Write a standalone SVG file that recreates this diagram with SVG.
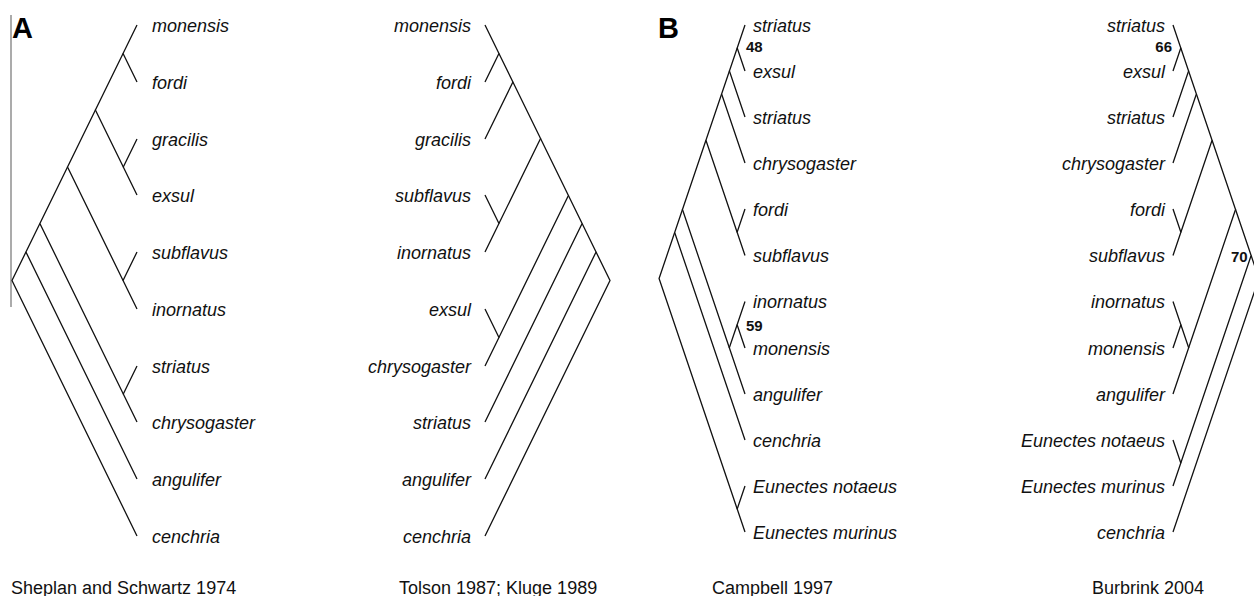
<svg xmlns="http://www.w3.org/2000/svg" width="1254" height="596" viewBox="0 0 1254 596">
<style>
.e{fill:none;stroke:#111;stroke-width:1.3}
.sp{font-family:"Liberation Sans",Arial,sans-serif;font-style:italic;font-size:18px;fill:#111}
.r{text-anchor:end}
.bs{font-family:"Liberation Sans",Arial,sans-serif;font-weight:bold;font-size:15px;fill:#111}
.cap{font-family:"Liberation Sans",Arial,sans-serif;font-size:18px;fill:#111}
.pl{font-family:"Liberation Sans",Arial,sans-serif;font-weight:bold;font-size:29px;fill:#000}
</style>
<rect width="1254" height="596" fill="#fff"/>
<line x1="11" y1="15" x2="11" y2="307" stroke="#666" stroke-width="1.1"/>
<g id="connectors">
 <g id="A1-edges">
  <path class="e" d="M25.94 252 L12 280.5 L137 536"/>
  <path class="e" d="M39.89 223.5 L25.94 252 L137 479"/>
  <path class="e" d="M67.53 167 L39.89 223.5 L123.3 394"/>
  <path class="e" d="M137 366 L123.3 394 L137 422"/>
  <path class="e" d="M95.41 110 L67.53 167 L123.06 280.5"/>
  <path class="e" d="M137 252 L123.06 280.5 L137 309"/>
  <path class="e" d="M123.06 53.5 L95.41 110 L123.3 167"/>
  <path class="e" d="M137 25 L123.06 53.5 L137 82"/>
  <path class="e" d="M137 139 L123.3 167 L137 195"/>
 </g>
 <g id="A2-edges">
  <path class="e" d="M596.06 252 L610 280.5 L485 536"/>
  <path class="e" d="M582.11 223.5 L596.06 252 L485 479"/>
  <path class="e" d="M568.41 195.5 L582.11 223.5 L485 422"/>
  <path class="e" d="M540.53 138.5 L568.41 195.5 L498.94 337.5"/>
  <path class="e" d="M485 309 L498.94 337.5 L485 366"/>
  <path class="e" d="M512.89 82 L540.53 138.5 L498.94 223.5"/>
  <path class="e" d="M485 195 L498.94 223.5 L485 252"/>
  <path class="e" d="M498.94 53.5 L512.89 82 L485 139"/>
  <path class="e" d="M485 25 L498.94 53.5 L485 82"/>
 </g>
 <g id="B1-edges">
  <path class="e" d="M674.66 232.5 L659.07 278.5 L737.2 509"/>
  <path class="e" d="M745 486 L737.2 509 L745 532"/>
  <path class="e" d="M682.46 209.5 L674.66 232.5 L745 440"/>
  <path class="e" d="M705.93 140.25 L682.46 209.5 L729.32 347.75"/>
  <path class="e" d="M737.12 324.75 L729.32 347.75 L745 394"/>
  <path class="e" d="M745 301.5 L737.12 324.75 L745 348"/>
  <path class="e" d="M721.61 94 L705.93 140.25 L737.12 232.25"/>
  <path class="e" d="M745 209 L737.12 232.25 L745 255.5"/>
  <path class="e" d="M729.41 71 L721.61 94 L745 163"/>
  <path class="e" d="M737.2 48 L729.41 71 L745 117"/>
  <path class="e" d="M745 25 L737.2 48 L745 71"/>
 </g>
 <g id="B2-edges">
  <path class="e" d="M1251.14 255.5 L1258.93 278.5 L1173 532"/>
  <path class="e" d="M1235.54 209.5 L1251.14 255.5 L1180.8 463"/>
  <path class="e" d="M1173 440 L1180.8 463 L1173 486"/>
  <path class="e" d="M1212.07 140.25 L1235.54 209.5 L1188.68 347.75"/>
  <path class="e" d="M1180.88 324.75 L1188.68 347.75 L1173 394"/>
  <path class="e" d="M1173 301.5 L1180.88 324.75 L1173 348"/>
  <path class="e" d="M1196.39 94 L1212.07 140.25 L1180.88 232.25"/>
  <path class="e" d="M1173 209 L1180.88 232.25 L1173 255.5"/>
  <path class="e" d="M1188.59 71 L1196.39 94 L1173 163"/>
  <path class="e" d="M1180.8 48 L1188.59 71 L1173 117"/>
  <path class="e" d="M1173 25 L1180.8 48 L1173 71"/>
 </g>
</g>
<g id="panelA">
 <text class="pl" x="12" y="38">A</text>
</g>
<g id="A1-labels">
 <g id="A1-monensis"><text class="sp" x="152" y="31.5">monensis</text></g>
 <g id="A1-fordi"><text class="sp" x="152" y="88.5">fordi</text></g>
 <g id="A1-gracilis"><text class="sp" x="152" y="145.5">gracilis</text></g>
 <g id="A1-exsul"><text class="sp" x="152" y="201.5">exsul</text></g>
 <g id="A1-subflavus"><text class="sp" x="152" y="258.5">subflavus</text></g>
 <g id="A1-inornatus"><text class="sp" x="152" y="315.5">inornatus</text></g>
 <g id="A1-striatus"><text class="sp" x="152" y="372.5">striatus</text></g>
 <g id="A1-chrysogaster"><text class="sp" x="152" y="428.5">chrysogaster</text></g>
 <g id="A1-angulifer"><text class="sp" x="152" y="485.5">angulifer</text></g>
 <g id="A1-cenchria"><text class="sp" x="152" y="542.5">cenchria</text></g>
 <g id="A1-caption"><text class="cap" x="11" y="594">Sheplan and Schwartz 1974</text></g>
</g>
<g id="A2-labels">
 <g id="A2-monensis"><text class="sp r" x="471" y="31.5">monensis</text></g>
 <g id="A2-fordi"><text class="sp r" x="471" y="88.5">fordi</text></g>
 <g id="A2-gracilis"><text class="sp r" x="471" y="145.5">gracilis</text></g>
 <g id="A2-subflavus"><text class="sp r" x="471" y="201.5">subflavus</text></g>
 <g id="A2-inornatus"><text class="sp r" x="471" y="258.5">inornatus</text></g>
 <g id="A2-exsul"><text class="sp r" x="471" y="315.5">exsul</text></g>
 <g id="A2-chrysogaster"><text class="sp r" x="471" y="372.5">chrysogaster</text></g>
 <g id="A2-striatus"><text class="sp r" x="471" y="428.5">striatus</text></g>
 <g id="A2-angulifer"><text class="sp r" x="471" y="485.5">angulifer</text></g>
 <g id="A2-cenchria"><text class="sp r" x="471" y="542.5">cenchria</text></g>
 <g id="A2-caption"><text class="cap" x="399" y="594">Tolson 1987; Kluge 1989</text></g>
</g>
<g id="panelB">
 <text class="pl" x="658" y="38">B</text>
</g>
<g id="B1-labels">
 <g id="B1-striatus1"><text class="sp" x="753" y="31.5">striatus</text></g>
 <g id="B1-exsul"><text class="sp" x="753" y="77.5">exsul</text></g>
 <g id="B1-striatus2"><text class="sp" x="753" y="123.5">striatus</text></g>
 <g id="B1-chrysogaster"><text class="sp" x="753" y="169.5">chrysogaster</text></g>
 <g id="B1-fordi"><text class="sp" x="753" y="215.5">fordi</text></g>
 <g id="B1-subflavus"><text class="sp" x="753" y="262">subflavus</text></g>
 <g id="B1-inornatus"><text class="sp" x="753" y="308">inornatus</text></g>
 <g id="B1-monensis"><text class="sp" x="753" y="354.5">monensis</text></g>
 <g id="B1-angulifer"><text class="sp" x="753" y="400.5">angulifer</text></g>
 <g id="B1-cenchria"><text class="sp" x="753" y="446.5">cenchria</text></g>
 <g id="B1-enotaeus"><text class="sp" x="753" y="492.5">Eunectes notaeus</text></g>
 <g id="B1-emurinus"><text class="sp" x="753" y="538.5">Eunectes murinus</text></g>
 <g id="B1-bs48"><text class="bs" x="746" y="52.3">48</text></g>
 <g id="B1-bs59"><text class="bs" x="746" y="330.7">59</text></g>
 <g id="B1-caption"><text class="cap" x="712" y="594">Campbell 1997</text></g>
</g>
<g id="B2-labels">
 <g id="B2-striatus1"><text class="sp r" x="1165" y="31.5">striatus</text></g>
 <g id="B2-exsul"><text class="sp r" x="1165" y="77.5">exsul</text></g>
 <g id="B2-striatus2"><text class="sp r" x="1165" y="123.5">striatus</text></g>
 <g id="B2-chrysogaster"><text class="sp r" x="1165" y="169.5">chrysogaster</text></g>
 <g id="B2-fordi"><text class="sp r" x="1165" y="215.5">fordi</text></g>
 <g id="B2-subflavus"><text class="sp r" x="1165" y="262">subflavus</text></g>
 <g id="B2-inornatus"><text class="sp r" x="1165" y="308">inornatus</text></g>
 <g id="B2-monensis"><text class="sp r" x="1165" y="354.5">monensis</text></g>
 <g id="B2-angulifer"><text class="sp r" x="1165" y="400.5">angulifer</text></g>
 <g id="B2-enotaeus"><text class="sp r" x="1165" y="446.5">Eunectes notaeus</text></g>
 <g id="B2-emurinus"><text class="sp r" x="1165" y="492.5">Eunectes murinus</text></g>
 <g id="B2-cenchria"><text class="sp r" x="1165" y="538.5">cenchria</text></g>
 <g id="B2-bs66"><text class="bs r" x="1172" y="52.3">66</text></g>
 <g id="B2-bs70"><text class="bs" x="1231" y="261.7">70</text></g>
 <g id="B2-caption"><text class="cap" x="1092" y="594">Burbrink 2004</text></g>
</g>
</svg>
